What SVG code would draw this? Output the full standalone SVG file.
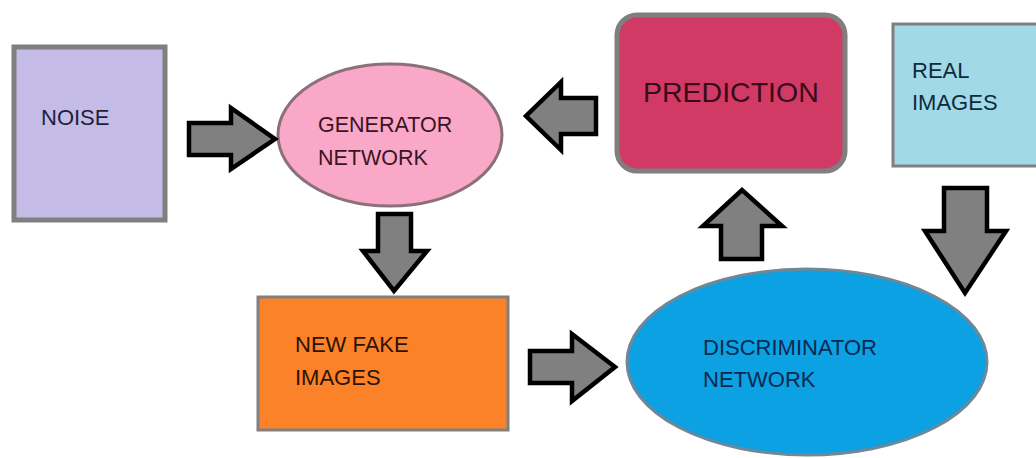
<svg xmlns="http://www.w3.org/2000/svg" width="1036" height="458" viewBox="0 0 1036 458">
<style>
text{font-family:"Liberation Sans",Arial,sans-serif}
.t22{font-size:22px}
.t21{font-size:21.5px}
.t28{font-size:28.5px}
.arrow{fill:#808080;stroke:#000;stroke-width:4.5;stroke-linejoin:miter}
</style>
<rect width="1036" height="458" fill="#fff"/>
<g id="noise">
<rect x="14" y="47" width="151" height="173" fill="#c4bce6" stroke="#7f7f7f" stroke-width="5"/>
<text class="t22" x="41" y="125" fill="#1f1f3a">NOISE</text>
</g>
<g id="generator">
<ellipse cx="390" cy="135" rx="112" ry="71" fill="#f9a8c8" stroke="#8c7078" stroke-width="3"/>
<text class="t21" x="318" y="132" fill="#3b1424">GENERATOR</text>
<text class="t21" x="318" y="165" fill="#3b1424">NETWORK</text>
</g>
<g id="prediction">
<rect x="617" y="15" width="228" height="156" rx="20" fill="#d13a64" stroke="#7f7f7f" stroke-width="5"/>
<text class="t28" x="643" y="102" fill="#3a0a1a">PREDICTION</text>
</g>
<g id="real">
<rect x="893" y="24" width="145" height="142" fill="#a2d9e9" stroke="#7f7f7f" stroke-width="3"/>
<text class="t22" x="912" y="78" fill="#0d2b3a">REAL</text>
<text class="t22" x="912" y="110" fill="#0d2b3a">IMAGES</text>
</g>
<g id="fake">
<rect x="258" y="297" width="250" height="133" fill="#fb8228" stroke="#808080" stroke-width="3"/>
<text class="t22" x="295" y="352" fill="#2b1405">NEW FAKE</text>
<text class="t22" x="295" y="385" fill="#2b1405">IMAGES</text>
</g>
<g id="discriminator">
<ellipse cx="807" cy="362" rx="180" ry="93" fill="#0ba1e3" stroke="#6f8797" stroke-width="3"/>
<text class="t22" x="703" y="355" fill="#0a2a50">DISCRIMINATOR</text>
<text class="t22" x="703" y="387" fill="#0a2a50">NETWORK</text>
</g>
<g id="connectors">
<polygon class="arrow" points="189,123 231,123 231,108 275,139 231,169 231,155 189,155"/>
<polygon class="arrow" points="596,98 561,98 561,82 526,116 561,150 561,134 596,134"/>
<polygon class="arrow" points="378,214 411,214 411,251 427,251 394,291 363,251 378,251"/>
<polygon class="arrow" points="530,351 572,351 572,334 615,367 572,401 572,383 530,383"/>
<polygon class="arrow" points="721,259 762,259 762,226 782,226 742,190 703,226 721,226"/>
<polygon class="arrow" points="944,188 987,188 987,231 1006,231 965,293 925,231 944,231"/>
</g>
</svg>
